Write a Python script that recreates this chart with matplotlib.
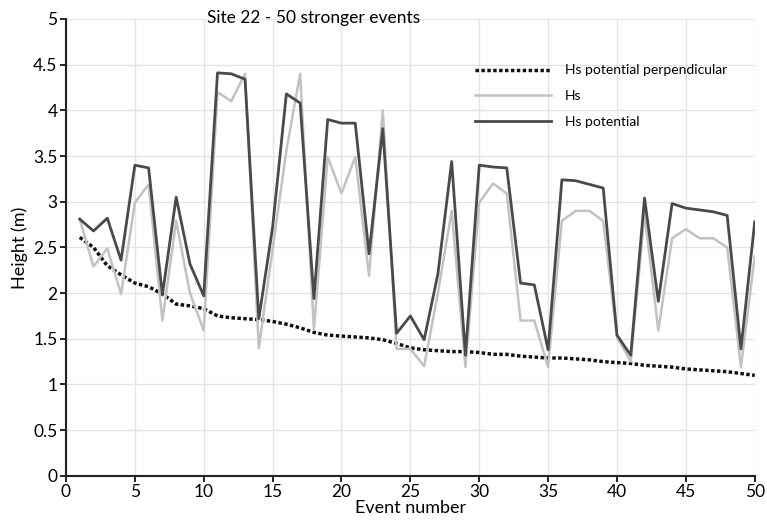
import numpy as np
import matplotlib
matplotlib.use('Agg')
import matplotlib.pyplot as plt
from matplotlib.ticker import FuncFormatter

events = np.arange(1, 51)

hs_potential = [2.81, 2.68, 2.82, 2.36, 3.40, 3.37, 1.98, 3.05, 2.32, 1.97,
                4.41, 4.40, 4.34, 1.72, 2.72, 4.18, 4.08, 1.94, 3.90, 3.86,
                3.86, 2.43, 3.80, 1.56, 1.75, 1.49, 2.21, 3.44, 1.32, 3.40,
                3.38, 3.37, 2.11, 2.09, 1.38, 3.24, 3.23, 3.19, 3.15, 1.54,
                1.32, 3.04, 1.91, 2.98, 2.93, 2.91, 2.89, 2.85, 1.39, 2.78]

hs = [2.81, 2.29, 2.49, 1.99, 2.99, 3.19, 1.70, 2.79, 2.00, 1.59,
      4.20, 4.10, 4.40, 1.40, 2.48, 3.56, 4.40, 1.60, 3.49, 3.09,
      3.49, 2.19, 4.00, 1.39, 1.39, 1.20, 2.00, 2.90, 1.19, 2.99,
      3.20, 3.09, 1.70, 1.70, 1.19, 2.79, 2.90, 2.90, 2.79, 1.52,
      1.25, 2.87, 1.59, 2.60, 2.70, 2.60, 2.60, 2.50, 1.19, 2.40]

hs_perp = [2.61, 2.50, 2.30, 2.20, 2.11, 2.07, 1.99, 1.88, 1.86, 1.83,
           1.75, 1.73, 1.72, 1.71, 1.69, 1.66, 1.62, 1.57, 1.54, 1.53,
           1.52, 1.51, 1.49, 1.45, 1.40, 1.38, 1.37, 1.36, 1.36, 1.35,
           1.33, 1.33, 1.31, 1.30, 1.29, 1.29, 1.28, 1.27, 1.25, 1.24,
           1.23, 1.21, 1.20, 1.19, 1.17, 1.16, 1.15, 1.14, 1.12, 1.10]

plt.rcParams['font.family'] = ['Lato', 'DejaVu Sans']

fig = plt.figure(figsize=(7.67, 5.27), dpi=100)
ax = fig.add_axes([0.086, 0.097, 0.898, 0.867])

ax.plot(events, hs_perp, color='#111111', linestyle=(0, (1, 0.7)), linewidth=2.5,
        label='Hs potential perpendicular')
ax.plot(events, hs, color='#c2c2c2', linewidth=1.8, label='Hs')
ax.plot(events, hs_potential, color='#4a4a4a', linewidth=2, label='Hs potential')

ax.set_xlim(0, 50)
ax.set_ylim(0, 5)
ax.set_xticks(np.arange(0, 51, 5))
ax.set_yticks(np.arange(0, 5.01, 0.5))
ax.yaxis.set_major_formatter(FuncFormatter(lambda v, p: f'{v:g}'))
ax.grid(True, color='#e4e4e4', linewidth=1)
ax.set_axisbelow(True)
for side in ['top', 'right']:
    ax.spines[side].set_visible(False)
for side in ['left', 'bottom']:
    ax.spines[side].set_color('#222222')
    ax.spines[side].set_linewidth(1.5)
ax.tick_params(labelsize=12.5, length=4, width=1.2, pad=2)

ax.set_xlabel('Event number', fontsize=13, labelpad=0)
ax.set_ylabel('Height (m)', fontsize=13, labelpad=4)

fig.text(0.409, 0.966, 'Site 22 - 50 stronger events', fontsize=12.5,
         ha='center', va='center')

ax.legend(loc='upper left', bbox_to_anchor=(0.575, 0.928), frameon=False,
          fontsize=10, handlelength=5.5, handletextpad=1.0, labelspacing=1.0)

fig.savefig('out.png', dpi=100)
